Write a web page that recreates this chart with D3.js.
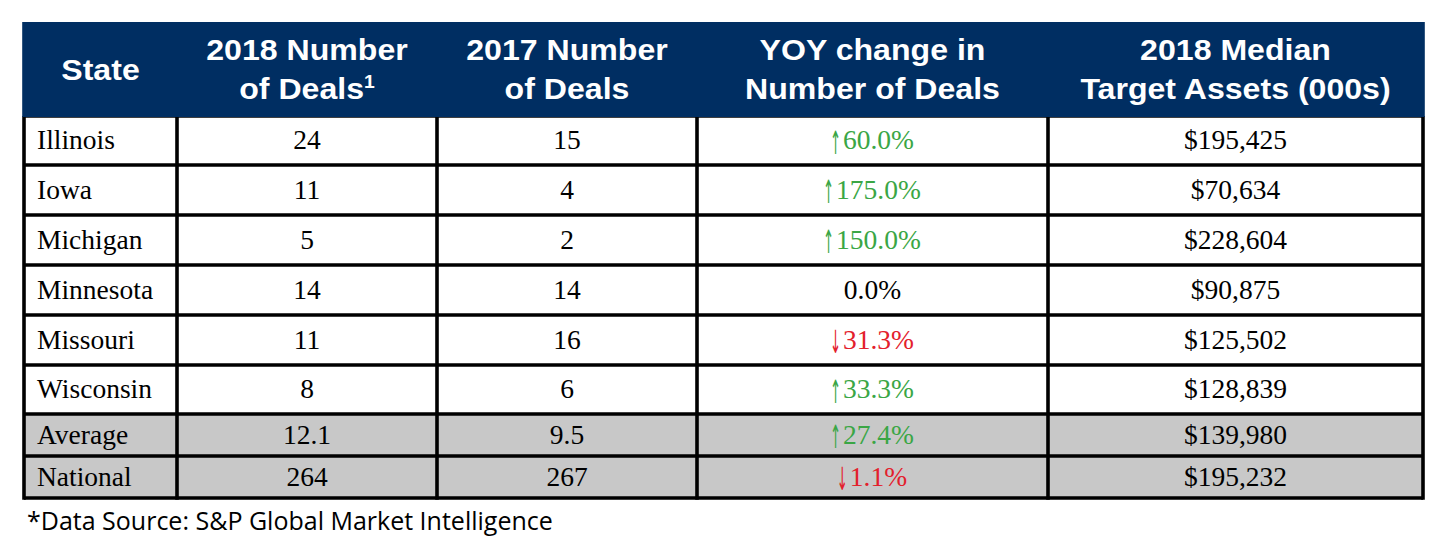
<!DOCTYPE html>
<html><head><meta charset="utf-8">
<script src="https://cdn.jsdelivr.net/npm/d3@7"></script>
<style>
html,body{margin:0;padding:0;background:#fff;}
svg{display:block;}
</style></head>
<body>
<svg id="chart" width="1450" height="550"></svg>
<script>
// ---- data ----
const headers = [["State"], ["2018 Number", "of Deals"], ["2017 Number", "of Deals"], ["YOY change in", "Number of Deals"], ["2018 Median", "Target Assets (000s)"]];
const states = ["Illinois", "Iowa", "Michigan", "Minnesota", "Missouri", "Wisconsin", "Average", "National"];
const deals2018 = ["24", "11", "5", "14", "11", "8", "12.1", "264"];
const deals2017 = ["15", "4", "2", "14", "16", "6", "9.5", "267"];
const yoyChange = [60.0, 175.0, 150.0, 0.0, -31.3, 33.3, 27.4, -1.1];
const medianAssets = [195425, 70634, 228604, 90875, 125502, 128839, 139980, 195232];
const summaryRows = ["Average", "National"];
const footnote = "*Data Source: S&P Global Market Intelligence";

// ---- layout ----
const colEdges = [24, 177, 437, 697, 1048, 1423];
const headerTop = 22, headerBottom = 116;
const rowEdges = [116, 165, 215, 265, 315, 365, 414, 456, 498];
const navy = "#002e62", grey = "#c8c8c8", green = "#3aa645", red = "#e3202c";
const bodyFont = "Liberation Serif, Times New Roman, serif";
const bodySize = 27.5;

const svg = d3.select("#chart");
const colIdx = d3.range(headers.length);
const rowIdx = d3.range(states.length);
const xL = d3.scaleOrdinal().domain(colIdx).range(colEdges.slice(0, -1));
const xR = d3.scaleOrdinal().domain(colIdx).range(colEdges.slice(1));
const yT = d3.scaleOrdinal().domain(rowIdx).range(rowEdges.slice(0, -1));
const yB = d3.scaleOrdinal().domain(rowIdx).range(rowEdges.slice(1));
const xC = i => (xL(i) + xR(i)) / 2;
const yC = i => (yT(i) + yB(i)) / 2;
const baseY = r => yC(r) + 8.5;

// row backgrounds
svg.selectAll("rect.row").data(rowIdx).join("rect").attr("class", "row")
  .attr("x", colEdges[0]).attr("y", i => yT(i))
  .attr("width", colEdges[colEdges.length - 1] - colEdges[0]).attr("height", i => yB(i) - yT(i))
  .attr("fill", i => summaryRows.includes(states[i]) ? grey : "#fff");

// body text
const fmtMoney = v => "$" + d3.format(",")(v);
const fmtPct = v => d3.format(".1f")(Math.abs(v)) + "%";
const cells = [];
rowIdx.forEach(r => {
  cells.push({ r, c: 0, text: states[r], anchor: "start" });
  cells.push({ r, c: 1, text: deals2018[r], anchor: "middle" });
  cells.push({ r, c: 2, text: deals2017[r], anchor: "middle" });
  cells.push({ r, c: 4, text: fmtMoney(medianAssets[r]), anchor: "middle" });
});
svg.selectAll("text.cell").data(cells).join("text").attr("class", "cell")
  .attr("x", d => d.anchor === "start" ? xL(d.c) + 13 : xC(d.c))
  .attr("y", d => baseY(d.r))
  .attr("text-anchor", d => d.anchor)
  .attr("fill", "#000")
  .attr("font-family", bodyFont).attr("font-size", bodySize)
  .text(d => d.text);

// YOY column: tall thin arrow + value
const arrowW = 9, arrowGap = 3;
const yoyG = svg.selectAll("g.yoy").data(rowIdx).join("g").attr("class", "yoy");
yoyG.each(function (r) {
  const v = yoyChange[r];
  const col = v > 0 ? green : v < 0 ? red : "#000";
  const g = d3.select(this);
  const t = g.append("text").attr("y", baseY(r)).attr("fill", col)
    .attr("font-family", bodyFont).attr("font-size", bodySize).text(fmtPct(v));
  const w = t.node().getComputedTextLength();
  const hasArrow = v !== 0;
  const total = w + (hasArrow ? arrowW + arrowGap : 0);
  const x0 = xC(3) - total / 2;
  t.attr("x", x0 + (hasArrow ? arrowW + arrowGap : 0));
  if (hasArrow) {
    g.append("text").attr("fill", col)
      .attr("font-family", "DejaVu Sans, sans-serif").attr("font-weight", "normal").attr("font-size", 20)
      .attr("text-anchor", "middle")
      .attr("transform", `translate(${x0 + arrowW / 2},${baseY(r) + 4.5}) scale(0.66,1.6)`)
      .attr("y", 0)
      .text(v > 0 ? "\u2191" : "\u2193");
  }
});

// grid lines
const lw = 3.6;
svg.selectAll("line.h").data(rowEdges).join("line").attr("class", "h")
  .attr("x1", colEdges[0]).attr("x2", colEdges[colEdges.length - 1])
  .attr("y1", d => d).attr("y2", d => d)
  .attr("stroke", "#000").attr("stroke-width", lw);
svg.selectAll("line.v").data(colEdges).join("line").attr("class", "v")
  .attr("x1", d => d).attr("x2", d => d)
  .attr("y1", headerBottom).attr("y2", rowEdges[rowEdges.length - 1] + lw / 2)
  .attr("stroke", "#000").attr("stroke-width", lw);

// header background
svg.append("rect").attr("x", colEdges[0] - lw / 2).attr("y", headerTop)
  .attr("width", colEdges[colEdges.length - 1] - colEdges[0] + lw).attr("height", headerBottom - headerTop + 1)
  .attr("fill", navy);

// header text
const hg = svg.selectAll("text.hdr").data(colIdx).join("text").attr("class", "hdr")
  .attr("text-anchor", "middle").attr("fill", "#fff")
  .attr("transform", c => `translate(${xC(c)},0) scale(1.07,1)`)
  .attr("font-family", "Liberation Sans, Arial, sans-serif").attr("font-weight", "bold").attr("font-size", 30);
hg.each(function (c) {
  const lines = headers[c];
  const t = d3.select(this);
  lines.forEach((ln, k) => {
    const base = lines.length === 1 ? 80 : (k === 0 ? 60 : 99);
    t.append("tspan").attr("x", 0).attr("y", base).text(ln);
    if (c === 1 && k === 1) {
      t.append("tspan").attr("font-size", 18).attr("dy", -11).text("1");
    }
  });
});

// footnote
svg.append("text").attr("x", 27).attr("y", 530)
  .attr("font-family", "Open Sans, Noto Sans, sans-serif").attr("font-size", 25)
  .attr("fill", "#000").text(footnote);
</script>
</body></html>
